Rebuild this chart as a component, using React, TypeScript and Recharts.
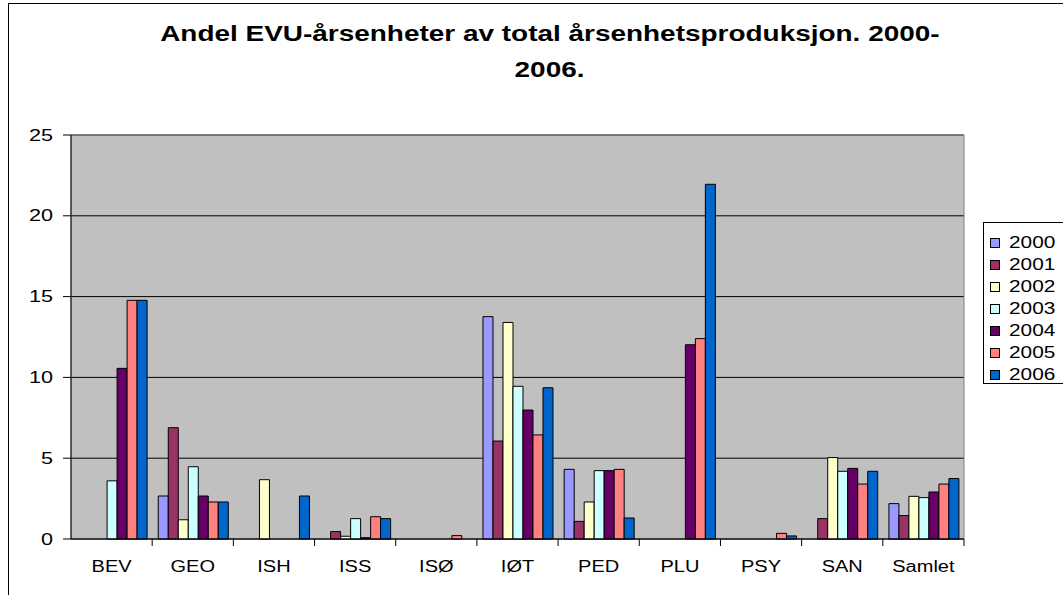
import { BarChart, Bar, XAxis, YAxis, CartesianGrid, ReferenceArea } from "recharts"

const categories = ["BEV", "GEO", "ISH", "ISS", "ISØ", "IØT", "PED", "PLU", "PSY", "SAN", "Samlet"]
const years = ["2000", "2001", "2002", "2003", "2004", "2005", "2006"]
const colors = ["#9999FF", "#993366", "#FFFFCC", "#CCFFFF", "#660066", "#FF8080", "#0066CC"]

const v2000 = [0, 2.66, 0, 0, 0, 13.76, 4.31, 0, 0, 0, 2.19]
const v2001 = [0, 6.89, 0, 0.46, 0, 6.06, 1.09, 0, 0, 1.26, 1.45]
const v2002 = [0, 1.19, 3.67, 0.17, 0, 13.4, 2.29, 0, 0, 5.04, 2.64]
const v2003 = [3.6, 4.47, 0, 1.26, 0, 9.45, 4.23, 0, 0, 4.19, 2.56]
const v2004 = [10.56, 2.66, 0, 0.08, 0, 7.98, 4.23, 12.02, 0, 4.37, 2.91]
const v2005 = [14.77, 2.29, 0, 1.38, 0.21, 6.44, 4.31, 12.4, 0.35, 3.4, 3.4]
const v2006 = [14.77, 2.29, 2.66, 1.26, 0, 9.36, 1.3, 21.95, 0.19, 4.19, 3.74]

const series = [v2000, v2001, v2002, v2003, v2004, v2005, v2006]
const yTicks = [0, 5, 10, 15, 20, 25]

const data = categories.map((cat, i) => {
  const row: Record<string, string | number> = { cat }
  years.forEach((y, s) => {
    row[y] = series[s][i]
  })
  return row
})

const W = 1063
const H = 595
const margin = { top: 135, right: 99, bottom: 0, left: 0 }
const Y_W = 71
const BAND = (W - Y_W - margin.right) / categories.length
const FONT = "'Liberation Sans', Arial, sans-serif"
// the original rendering is stretched sideways
const STRETCH = 1.25

function XTick(props: any) {
  const { x, y, payload } = props
  const edge = x + BAND / 2
  return (
    <g>
      <line x1={edge} x2={edge} y1={y} y2={y + 7} stroke="#000" />
      <text
        transform={`translate(${x},${y + 33}) scale(${STRETCH},1)`}
        textAnchor="middle"
        fontSize={16}
        fill="#000"
        fontFamily={FONT}
      >
        {payload.value}
      </text>
    </g>
  )
}

function YTick(props: any) {
  const { x, y, payload } = props
  return (
    <text
      transform={`translate(${x},${y}) scale(${STRETCH + 0.1},1)`}
      dy="0.355em"
      textAnchor="end"
      fontSize={16}
      fill="#000"
      fontFamily={FONT}
    >
      {payload.value}
    </text>
  )
}

export default function App() {
  return (
    <div style={{ position: "absolute", left: 0, top: 0, width: W, height: H, overflow: "hidden", background: "#fff", fontFamily: FONT }}>
      <div style={{ position: "absolute", left: 8, top: 3, width: 1120, height: 700, border: "1px solid #000" }} />
      <div
        style={{
          position: "absolute",
          left: 0,
          top: 16,
          width: 1100,
          textAlign: "center",
          fontWeight: "bold",
          fontSize: 22,
          lineHeight: "36px",
          color: "#000",
        }}
      >
        <div style={{ display: "inline-block", transform: "scaleX(1.27)" }}>
          Andel EVU-årsenheter av total årsenhetsproduksjon. 2000-
        </div>
        <br />
        <div style={{ display: "inline-block", transform: "scaleX(1.27)" }}>2006.</div>
      </div>
      <div style={{ position: "absolute", left: 0, top: 0 }}>
        <BarChart width={W} height={H} data={data} margin={margin} barCategoryGap="7.5%" barGap={0}>
          <CartesianGrid horizontal vertical={false} stroke="#000" fill="#C0C0C0" />
          <ReferenceArea x1="BEV" x2="Samlet" y1={0} y2={25} fill="none" stroke="#808080" fillOpacity={0} ifOverflow="visible" />
          <XAxis
            dataKey="cat"
            height={H - margin.top - 404}
            tickLine={false}
            tickSize={0}
            tickMargin={0}
            axisLine={{ stroke: "#000" }}
            tick={<XTick />}
            interval={0}
          />
          <YAxis
            width={Y_W}
            domain={[0, 25]}
            ticks={yTicks}
            tickSize={8}
            tickMargin={10}
            axisLine={{ stroke: "#000" }}
            tickLine={{ stroke: "#000" }}
            tick={<YTick />}
          />
          {years.map((y, s) => (
            <Bar key={y} dataKey={y} fill={colors[s]} stroke="#000" strokeWidth={1} isAnimationActive={false} />
          ))}
        </BarChart>
      </div>
      <div
        style={{
          position: "absolute",
          left: 983,
          top: 222,
          width: 120,
          height: 160,
          border: "1px solid #000",
          background: "#fff",
        }}
      >
        {years.map((y, s) => (
          <div key={y} style={{ position: "absolute", left: 6, top: 10 + s * 22, height: 20, display: "flex", alignItems: "center", fontSize: 16, color: "#000" }}>
            <span style={{ display: "inline-block", width: 8, height: 8, background: colors[s], border: "1px solid #000", marginRight: 9 }} />
            <span style={{ display: "inline-block", transform: "scaleX(1.3)", transformOrigin: "left center" }}>{y}</span>
          </div>
        ))}
      </div>
    </div>
  )
}
